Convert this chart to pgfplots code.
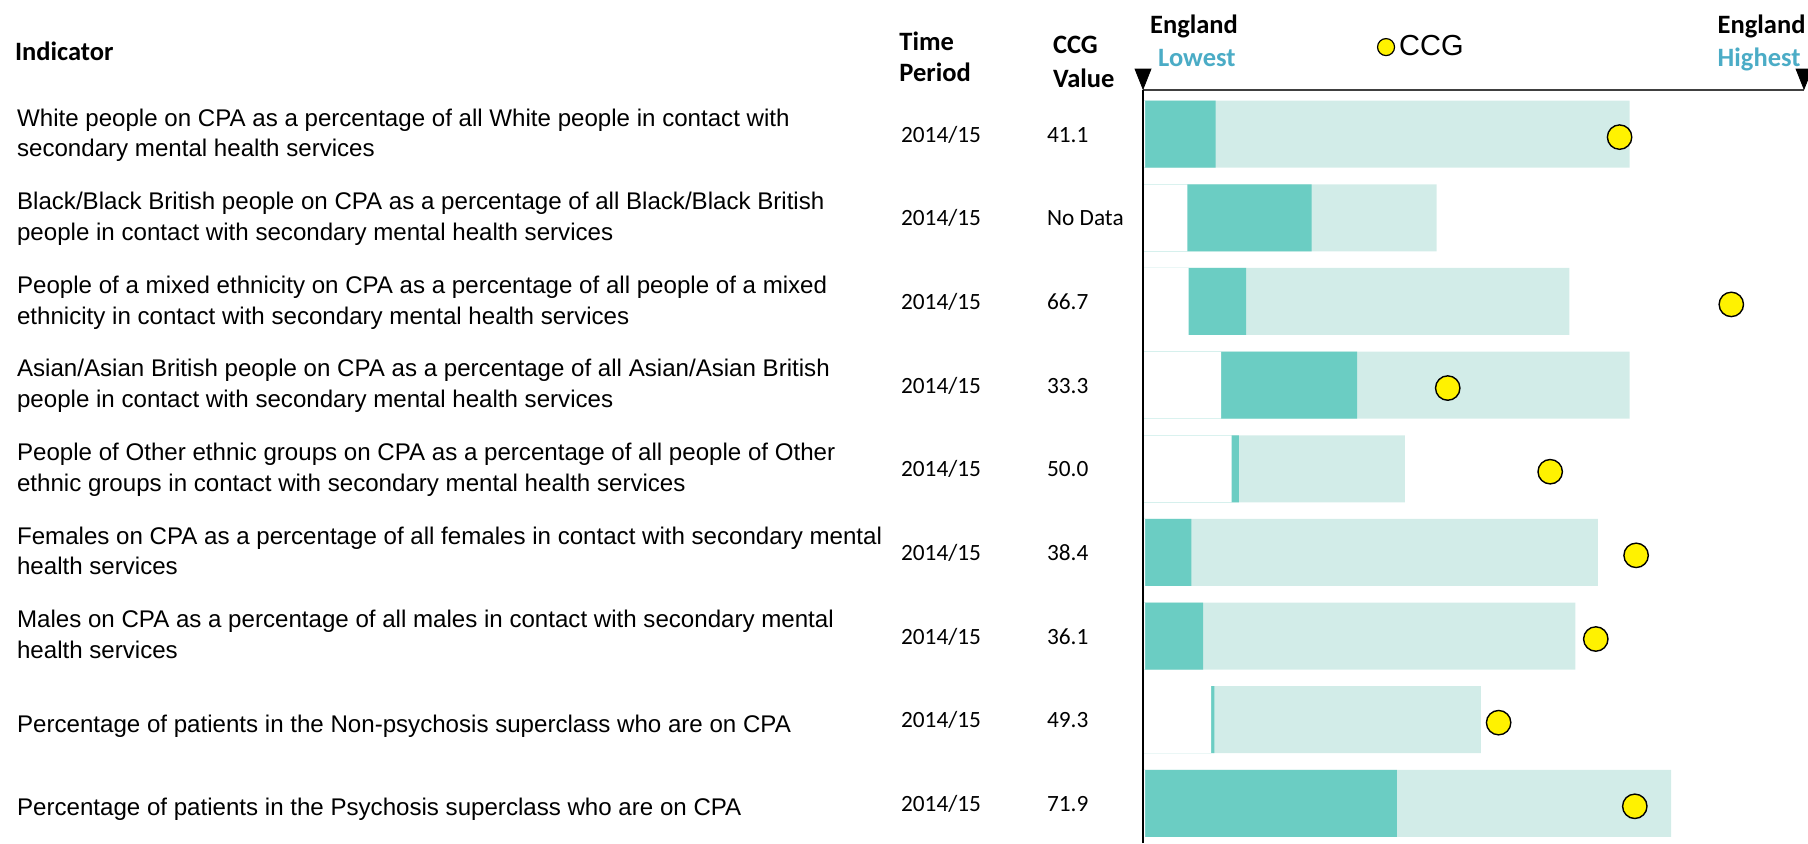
\documentclass[border=0pt]{standalone}
\usepackage{fontspec}
\setmainfont{Liberation Sans}
\newfontfamily\calibri{Carlito}
\usepackage{pgfplots}
\pgfplotsset{compat=1.18}
\definecolor{tealdark}{HTML}{6BCDC3}
\definecolor{teallight}{HTML}{D2ECE8}
\definecolor{hdrblue}{HTML}{4BACC6}

\begin{document}
\begin{tikzpicture}
\useasboundingbox (0,0) rectangle (904pt,-421.5pt);
\begin{axis}[
  at={(571.5pt,-45pt)}, anchor=north west,
  scale only axis, width=330.5pt, height=376.5pt,
  xmin=0, xmax=100, ymin=0.526, ymax=9.528,
  axis x line*=top, axis y line*=left,
  x axis line style={-, draw=black!75, line width=1pt},
  y axis line style={-, draw=black, line width=1pt},
  xtick=\empty, ytick=\empty,
  clip=false, axis on top,
  legend cell align=left,
  legend style={at={(0.3533,1.057)}, anchor=west, draw=none, fill=none,
    inner sep=0pt, font=\fontsize{14.5}{16}\selectfont},
  legend image code/.code={\draw[fill=yellow,draw=black,line width=0.6pt] (0pt,0pt) circle (4.25pt);},
]
% light bars (England range end)
\addplot[xbar, bar width=33.5pt, bar shift=0pt, fill=teallight, draw=none, forget plot]
  coordinates {(73.6,9) (44.4,8) (64.5,7) (73.6,6) (39.6,5) (68.8,4) (65.4,3) (51.1,2) (79.9,1)};
% dark bars
\addplot[xbar, bar width=33.5pt, bar shift=0pt, fill=tealdark, draw=none, forget plot]
  coordinates {(11.0,9) (25.5,8) (15.6,7) (32.4,6) (14.5,5) (7.3,4) (9.1,3) (10.8,2) (38.4,1)};
% blank start
\addplot[xbar, bar width=33.5pt, bar shift=0pt, fill=white, draw=none, forget plot]
  coordinates {(0.3,9) (6.7,8) (6.9,7) (11.8,6) (13.4,5) (0.3,4) (0.3,3) (10.3,2) (0.3,1)};
% CCG values
\addplot[only marks, mark=*, mark size=6.1pt, mark options={fill=yellow, draw=black, line width=0.7pt}]
  coordinates {(72.1,8.965) (89.0,6.965) (46.1,5.965) (61.6,4.965) (74.6,3.965) (68.5,2.965) (53.8,1.965) (74.4,0.965)};
\addlegendentry{CCG}
% triangles
\addplot[only marks, forget plot, mark=triangle*, mark size=4.6pt,
  mark options={rotate=180, yscale=1.45, fill=black, draw=black}]
  coordinates {(0,9.699) (100,9.699)};
\end{axis}

\begin{scope}[x=0.5pt,y=-0.5pt]
\tikzset{ind/.style={anchor=base west, inner sep=0pt, font=\fontsize{12.05}{14}\selectfont},
  num/.style={anchor=base west, inner sep=0pt, font=\calibri\fontsize{11.65}{14}\selectfont},
  hdr/.style={anchor=base west, inner sep=0pt, font=\calibri\bfseries\fontsize{13.25}{15}\selectfont}}
% headers
\node[hdr] at (14.7,60) {Indicator};
\node[hdr] at (899,50) {Time};
\node[hdr] at (899,81.7) {Period};
\node[hdr] at (1052.7,53.3) {CCG};
\node[hdr] at (1052.7,87.3) {Value};
\node[hdr] at (1149.7,33.3) {England};
\node[hdr, text=hdrblue] at (1157.8,66.7) {Lowest};
\node[hdr] at (1717.3,33.3) {England};
\node[hdr, text=hdrblue] at (1717.3,66.7) {Highest};
% indicators
\node[ind] at (16.7,126.0) {White people on CPA as a percentage of all White people in contact with};
\node[ind] at (16.7,156.7) {secondary mental health services};
\node[ind] at (16.7,209.6) {Black/Black British people on CPA as a percentage of all Black/Black British};
\node[ind] at (16.7,240.3) {people in contact with secondary mental health services};
\node[ind] at (16.7,293.3) {People of a mixed ethnicity on CPA as a percentage of all people of a mixed};
\node[ind] at (16.7,324.0) {ethnicity in contact with secondary mental health services};
\node[ind] at (16.7,376.9) {Asian/Asian British people on CPA as a percentage of all Asian/Asian British};
\node[ind] at (16.7,407.6) {people in contact with secondary mental health services};
\node[ind] at (16.7,460.6) {People of Other ethnic groups on CPA as a percentage of all people of Other};
\node[ind] at (16.7,491.3) {ethnic groups in contact with secondary mental health services};
\node[ind] at (16.7,544.2) {Females on CPA as a percentage of all females in contact with secondary mental};
\node[ind] at (16.7,574.9) {health services};
\node[ind] at (16.7,627.8) {Males on CPA as a percentage of all males in contact with secondary mental};
\node[ind] at (16.7,658.5) {health services};
\node[ind] at (16.7,732.3) {Percentage of patients in the Non-psychosis superclass who are on CPA};
\node[ind] at (16.7,815.9) {Percentage of patients in the Psychosis superclass who are on CPA};
% time period and values
\foreach \y/\v in {142.2/41.1, 225.8/No Data, 309.5/66.7, 393.1/33.3, 476.8/50.0, 560.4/38.4, 644.0/36.1, 727.7/49.3, 811.3/71.9}{
  \node[num] at (900.7,\y) {2014/15};
  \node[num] at (1046.7,\y) {\v};
}
\end{scope}
\end{tikzpicture}
\end{document}
